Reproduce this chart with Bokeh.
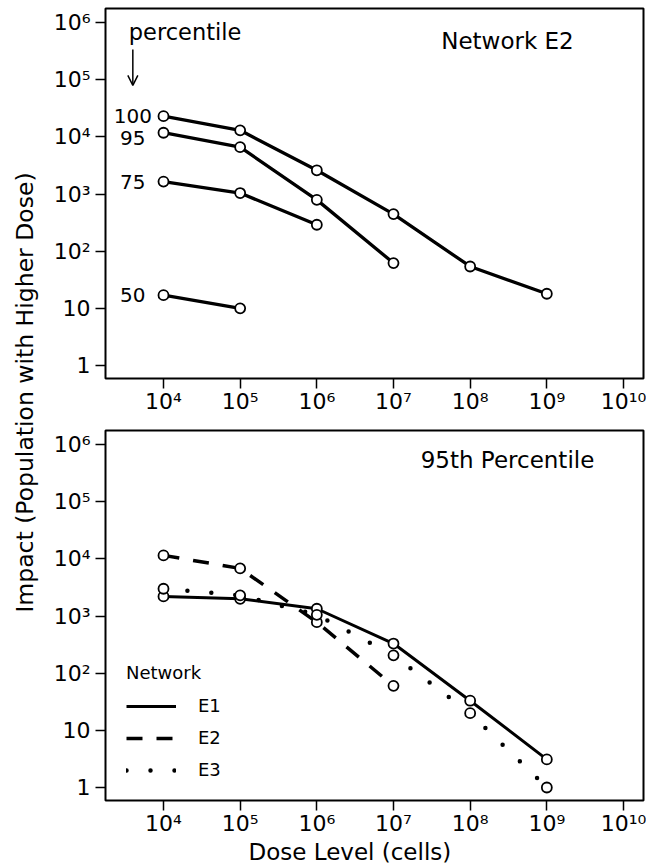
import math
from bokeh.plotting import figure
from bokeh.layouts import column, row
from bokeh.models import (Range1d, FixedTicker, CustomJSTickFormatter, Label, Legend,
                          LegendItem, Arrow, OpenHead, ColumnDataSource, Title)
from bokeh.core.properties import value
from bokeh.embed import file_html
from bokeh.resources import INLINE

# ---------------- data ----------------
dose = [1e4, 1e5, 1e6, 1e7, 1e8, 1e9]

# Top panel: Network E2, percentiles
pct_labels = ["100", "95", "75", "50"]
p100 = [23000, 13000, 2600, 445, 54, 18]
p95 = [11800, 6600, 790, 62]
p75 = [1650, 1040, 290]
p50 = [17, 10]

# Bottom panel: 95th percentile, networks
net_labels = ["E1", "E2", "E3"]
e1 = [2200, 2000, 1340, 330, 33, 3.1]
e2 = [11500, 6800, 780, 60]
e3 = [3000, 2300, 1050, 205, 20, 1.0]

x_ticks = [1e4, 1e5, 1e6, 1e7, 1e8, 1e9, 1e10]
x_tick_labels = ["10\u2074", "10\u2075", "10\u2076", "10\u2077", "10\u2078", "10\u2079", "10\u00b9\u2070"]
y_ticks = [1, 10, 1e2, 1e3, 1e4, 1e5, 1e6]
y_tick_labels = ["1", "10", "10\u00b2", "10\u00b3", "10\u2074", "10\u2075", "10\u2076"]

top_title = "Network E2"
bottom_title = "95th Percentile"
x_title = "Dose Level (cells)"
y_title = "Impact (Population with Higher Dose)"
pointer_text = "percentile"

# ---------------- style ----------------
FONT = "DejaVu Sans"
X_RANGE = (10 ** 3.2435, 10 ** 10.261)
Y_RANGE = (10 ** -0.227, 10 ** 6.245)

fmt_code = """
for (let i = 0; i < tvals.length; i++) {
  if (Math.abs(Math.log10(tick) - Math.log10(tvals[i])) < 1e-6) return tlabels[i];
}
return "";
"""


def make_fig(border_top, border_bottom):
    p = figure(x_axis_type="log", y_axis_type="log",
               x_range=Range1d(*X_RANGE), y_range=Range1d(*Y_RANGE),
               frame_width=538, frame_height=370,
               min_border_left=65, min_border_right=3,
               min_border_top=border_top, min_border_bottom=border_bottom,
               output_backend="svg", toolbar_location=None)
    p.grid.visible = False
    p.outline_line_color = "black"
    p.outline_line_width = 2
    p.background_fill_color = "white"
    p.border_fill_color = "white"
    p.xaxis.ticker = FixedTicker(ticks=x_ticks, minor_ticks=[])
    p.yaxis.ticker = FixedTicker(ticks=y_ticks, minor_ticks=[])
    p.xaxis.formatter = CustomJSTickFormatter(args=dict(tvals=x_ticks, tlabels=x_tick_labels), code=fmt_code)
    p.yaxis.formatter = CustomJSTickFormatter(args=dict(tvals=y_ticks, tlabels=y_tick_labels), code=fmt_code)
    for ax in (p.xaxis[0], p.yaxis[0]):
        ax.axis_line_color = None
        ax.major_tick_out = 10
        ax.major_tick_in = 0
        ax.major_tick_line_width = 1.5
        ax.major_tick_line_color = "black"
        ax.minor_tick_line_color = None
        ax.major_label_text_font = FONT
        ax.major_label_text_font_size = "22px"
        ax.major_label_text_color = "black"
    p.xaxis.major_label_standoff = 0
    p.yaxis.major_label_standoff = 5
    return p


def markers(p, xs, ys):
    p.scatter(xs, ys, marker="circle", size=10, fill_color="white",
              line_color="black", line_width=1.8)


# ---------------- top panel ----------------
top = make_fig(8, 37)
for ys in (p100, p95, p75, p50):
    xs = dose[:len(ys)]
    top.line(xs, ys, line_color="black", line_width=3.3)
    markers(top, xs, ys)

lab_x = 10 ** 3.6
src = ColumnDataSource(dict(x=[lab_x] * 4, y=[p100[0], p95[0] * 0.8, p75[0], p50[0]], t=pct_labels))
top.text(x="x", y="y", text="t", source=src, text_font=value(FONT), text_font_size="20px",
         text_align="center", text_baseline="middle", text_color="black")
top.add_layout(Label(x=lab_x, y=10 ** 5.84, text=pointer_text, text_font=FONT,
                     text_font_size="22.5px", text_align="left", text_baseline="middle",
                     x_offset=-4, text_color="black"))
top.add_layout(Arrow(x_start=lab_x, y_start=10 ** 5.53, x_end=lab_x, y_end=10 ** 4.9,
                     line_width=1.5, line_color="black",
                     end=OpenHead(size=10, line_width=1.5, line_color="black")))
top.add_layout(Label(x=402, y=338, x_units="screen", y_units="screen", text=top_title,
                     text_font=FONT, text_font_size="23px", text_align="center",
                     text_baseline="middle", text_color="black"))

# ---------------- bottom panel ----------------
bot = make_fig(14, 37)
r1 = bot.line(dose[:len(e1)], e1, line_color="black", line_width=3)
r2 = bot.line(dose[:len(e2)], e2, line_color="black", line_width=3.5, line_dash="16 14")
r3 = bot.line(dose[:len(e3)], e3, line_color="black", line_width=4.5, line_dash="0 24",
              line_cap="round")
markers(bot, dose[:len(e1)], e1)
markers(bot, dose[:len(e2)], e2)
markers(bot, dose[:len(e3)], e3)

legend = Legend(items=[LegendItem(label=net_labels[0], renderers=[r1]),
                       LegendItem(label=net_labels[1], renderers=[r2]),
                       LegendItem(label=net_labels[2], renderers=[r3])],
                title="Network", location=(21, 20), border_line_color=None,
                background_fill_alpha=0, glyph_width=50, glyph_height=20,
                label_height=20, label_standoff=22, spacing=11, padding=0, margin=0,
                label_text_font=FONT, label_text_font_size="18px", label_text_color="black",
                title_text_font=FONT, title_text_font_size="18px", title_text_color="black",
                title_text_font_style="normal", title_standoff=12)
bot.add_layout(legend)
bot.add_layout(Label(x=402, y=341, x_units="screen", y_units="screen", text=bottom_title,
                     text_font=FONT, text_font_size="23px", text_align="center",
                     text_baseline="middle", text_color="black"))
bot.add_layout(Title(text=x_title, align="left", offset=143, standoff=0, vertical_align="top",
                     text_font=FONT, text_font_size="23px", text_font_style="normal",
                     text_color="black", text_line_height=1.0), "below")

# ---------------- y title strip ----------------
lab = figure(width=40, height=863, x_range=Range1d(0, 40), y_range=Range1d(0, 863),
             min_border=0, output_backend="svg", toolbar_location=None)
lab.axis.visible = False
lab.grid.visible = False
lab.outline_line_color = None
lab.add_layout(Label(x=24.5, y=863 - 392, x_units="screen", y_units="screen", text=y_title,
                     angle=math.pi / 2, text_font=FONT, text_font_size="23.5px",
                     text_align="center", text_baseline="middle", text_color="black"))

layout = row(lab, column(top, bot))
open("out.html", "w").write(file_html(layout, INLINE))
